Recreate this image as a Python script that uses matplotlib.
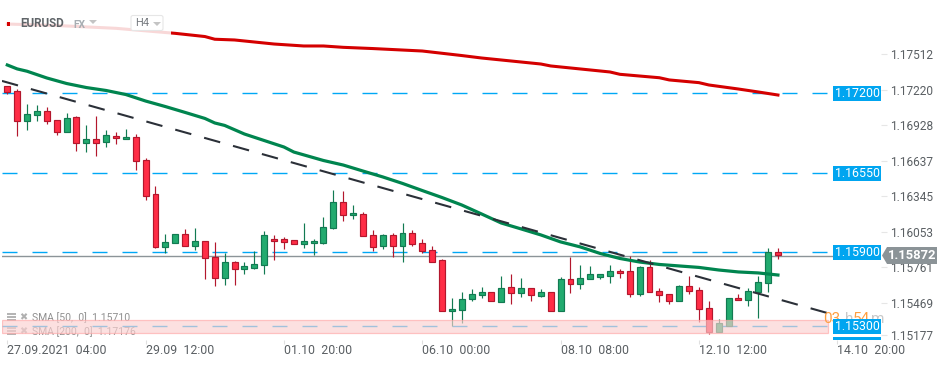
import matplotlib
matplotlib.use('Agg')
import matplotlib.pyplot as plt
from matplotlib.patches import Rectangle, Polygon, FancyBboxPatch

plt.rcParams['font.family'] = ['Roboto', 'DejaVu Sans']

opens = [1.17253, 1.17214, 1.16969, 1.17018, 1.17051, 1.16977, 1.16880, 1.17002, 1.16790, 1.16822,
         1.16798, 1.16847, 1.16822, 1.16839, 1.16651, 1.16374, 1.15947, 1.15974, 1.16048, 1.15950,
         1.15991, 1.15860, 1.15689, 1.15819, 1.15762, 1.15770, 1.15795, 1.16007, 1.16007, 1.15999,
         1.15966, 1.15974, 1.15979, 1.16097, 1.16309, 1.16203, 1.16211, 1.16039, 1.15950, 1.16039,
         1.15950, 1.16056, 1.15974, 1.15917, 1.15835, 1.15420, 1.15428, 1.15518, 1.15550, 1.15575,
         1.15493, 1.15615, 1.15566, 1.15607, 1.15542, 1.15575, 1.15420, 1.15681, 1.15640, 1.15681,
         1.15697, 1.15705, 1.15746, 1.15746, 1.15558, 1.15778, 1.15583, 1.15558, 1.15501, 1.15623,
         1.15591, 1.15444, 1.15253, 1.15302, 1.15526, 1.15509, 1.15575, 1.15648, 1.15901]
closes = [1.17204, 1.16969, 1.17026, 1.17051, 1.16969, 1.16880, 1.16994, 1.16790, 1.16822, 1.16790,
          1.16855, 1.16831, 1.16839, 1.16643, 1.16362, 1.15947, 1.15982, 1.16048, 1.15950, 1.15991,
          1.15852, 1.15689, 1.15819, 1.15762, 1.15787, 1.15803, 1.16039, 1.15991, 1.15982, 1.15966,
          1.15991, 1.15991, 1.16105, 1.16309, 1.16203, 1.16219, 1.16031, 1.15942, 1.16039, 1.15950,
          1.16056, 1.15966, 1.15909, 1.15819, 1.15420, 1.15436, 1.15518, 1.15558, 1.15575, 1.15501,
          1.15607, 1.15566, 1.15607, 1.15550, 1.15575, 1.15420, 1.15681, 1.15640, 1.15689, 1.15721,
          1.15721, 1.15746, 1.15729, 1.15558, 1.15778, 1.15575, 1.15550, 1.15501, 1.15623, 1.15583,
          1.15436, 1.15253, 1.15321, 1.15526, 1.15509, 1.15583, 1.15656, 1.15901, 1.15879]
highs = [1.17257, 1.17230, 1.17110, 1.17100, 1.17083, 1.16977, 1.17034, 1.17010, 1.16936, 1.17010,
         1.16896, 1.16880, 1.16904, 1.16863, 1.16668, 1.16442, 1.16050, 1.16050, 1.16088, 1.16097,
         1.15991, 1.15985, 1.15893, 1.15828, 1.15819, 1.15909, 1.16072, 1.16039, 1.16023, 1.15999,
         1.16140, 1.16007, 1.16189, 1.16409, 1.16398, 1.16287, 1.16227, 1.16080, 1.16048, 1.16056,
         1.16140, 1.16080, 1.16007, 1.15950, 1.15844, 1.15526, 1.15575, 1.15599, 1.15615, 1.15575,
         1.15705, 1.15721, 1.15689, 1.15607, 1.15599, 1.15575, 1.15697, 1.15860, 1.15795, 1.15787,
         1.15721, 1.15795, 1.15762, 1.15871, 1.15789, 1.15835, 1.15607, 1.15558, 1.15632, 1.15705,
         1.15615, 1.15501, 1.15354, 1.15526, 1.15558, 1.15607, 1.15705, 1.15933, 1.15933]
lows = [1.17192, 1.16852, 1.16901, 1.16974, 1.16950, 1.16860, 1.16880, 1.16729, 1.16721, 1.16689,
        1.16762, 1.16787, 1.16822, 1.16575, 1.16330, 1.15938, 1.15898, 1.15974, 1.15950, 1.15922,
        1.15686, 1.15628, 1.15637, 1.15637, 1.15726, 1.15762, 1.15726, 1.15841, 1.15928, 1.15966,
        1.15938, 1.15879, 1.15971, 1.16088, 1.16158, 1.16175, 1.16031, 1.15909, 1.15930, 1.15862,
        1.15819, 1.15950, 1.15893, 1.15819, 1.15420, 1.15302, 1.15327, 1.15501, 1.15526, 1.15501,
        1.15493, 1.15481, 1.15534, 1.15501, 1.15534, 1.15420, 1.15420, 1.15566, 1.15604, 1.15681,
        1.15686, 1.15648, 1.15693, 1.15534, 1.15547, 1.15575, 1.15498, 1.15481, 1.15501, 1.15563,
        1.15335, 1.15237, 1.15253, 1.15302, 1.15509, 1.15465, 1.15367, 1.15579, 1.15846]

sma50_idx = [0, 1, 2, 4, 6, 8, 10, 12, 14, 16, 18, 20, 21, 22, 24, 26, 28, 29, 32, 34, 36, 38, 40, 42,
             44, 46, 48, 50, 52, 54, 56, 58, 60, 62, 64, 66, 68, 70, 72, 74, 76, 78]
sma50 = [1.17428, 1.17396, 1.17377, 1.17322, 1.17277, 1.17244, 1.17220, 1.17187, 1.17134, 1.17089,
         1.17041, 1.16992, 1.16955, 1.16935, 1.16865, 1.16812, 1.16759, 1.16718, 1.16649, 1.16612,
         1.16563, 1.16515, 1.16462, 1.16404, 1.16347, 1.16286, 1.16213, 1.16139, 1.16091, 1.16042,
         1.15985, 1.15944, 1.15891, 1.15850, 1.15821, 1.15801, 1.15789, 1.15777, 1.15756, 1.15740,
         1.15732, 1.15715]

sma200_idx = [0, 5, 11, 17, 20, 21, 23, 27, 30, 32, 34, 37, 42, 46, 48, 54, 55, 61, 62, 66, 67, 70,
              71, 74, 76, 78]
sma200 = [1.17762, 1.17750, 1.17727, 1.17686, 1.17660, 1.17638, 1.17632, 1.17599, 1.17583, 1.17583,
          1.17572, 1.17562, 1.17542, 1.17505, 1.17485, 1.17436, 1.17420, 1.17371, 1.17352, 1.17324,
          1.17306, 1.17284, 1.17265, 1.17232, 1.17208, 1.17183]

levels = [1.17200, 1.16550, 1.15900, 1.15300]
last_price = 1.15872
zone_top = 1.15345
zone_bottom = 1.15245
trend_idx = [-0.54, 82.96]
trend_price = [1.17298, 1.15406]

x_tick_idx = [0, 14, 28, 42, 56, 70, 84]
x_tick_labels = ['27.09.2021  04:00', '29.09  12:00', '01.10  20:00', '06.10  00:00',
                 '08.10  08:00', '12.10  12:00', '14.10  20:00']
# the platform squeezes its price labels, so positions are as seen on the picture
y_tick_pos = [1.17518, 1.17224, 1.16939, 1.16645, 1.16360, 1.16066, 1.15781, 1.15487, 1.15226]
y_tick_labels = ['1.17512', '1.17220', '1.16928', '1.16637', '1.16345', '1.16053', '1.15761',
                 '1.15469', '1.15177']

W, H = 950, 365
fig = plt.figure(figsize=(W / 100, H / 100), dpi=100)
ax = fig.add_axes([2 / W, 1 - 340 / H, 879 / W, 340 / H])
ov = fig.add_axes([0, 0, 1, 1], facecolor='none')
ov.set_xlim(0, W)
ov.set_ylim(H, 0)
ov.axis('off')

ax.set_xlim(-0.536, 88.43)
ax.set_ylim(1.15185, 1.17958)
for s in ax.spines.values():
    s.set_visible(False)

GREY_TXT = '#5a5f63'
BLUE = '#00a5f0'

# horizontal levels and last price
for lv in levels:
    ax.plot([-0.536, 83.57], [lv, lv], color='#00a8f5', lw=1.0, ls=(0, (10.8, 10.8)), zorder=1)
ax.plot([-0.536, 83.57], [last_price, last_price], color='#8c9498', lw=1.0, zorder=1.5)

# candles
for i in range(len(opens)):
    up = closes[i] >= opens[i]
    edge = '#127a52' if up else '#b3172d'
    fill = '#22ab6f' if up else '#ff2d46'
    ax.vlines(i, lows[i], highs[i], color=edge, lw=0.85, zorder=2)
    ax.bar(i, abs(closes[i] - opens[i]), bottom=min(opens[i], closes[i]), width=0.6,
           color=fill, edgecolor=edge, linewidth=0.85, zorder=3)

# moving averages and trend line
ax.plot(sma200_idx, sma200, color='#d40000', lw=2.2, zorder=4)
ax.plot(sma50_idx, sma50, color='#00854f', lw=2.3, zorder=4)
ax.plot(trend_idx, trend_price, color='#2b3038', lw=1.5, ls=(0, (8, 6.4)), zorder=4.5)

# indicator legend, sits under the pink zone
for ty, txt in [(318, 'SMA [50,  0]  1.15710'), (332, 'SMA [200,  0]  1.17176')]:
    ax.text(32, ty, txt, transform=ov.transData, color='#8f8f8f', fontsize=7.5, va='center',
            clip_on=False, zorder=5)
    for dy in (-4, -1, 2):
        ax.add_patch(Rectangle((7, ty + dy - 1), 9, 2, transform=ov.transData, color='#b5b5b5',
                               lw=0, clip_on=False, zorder=5))
    ax.text(23, ty - 1, '✖', transform=ov.transData, color='#b0b0b0', fontsize=7, ha='center',
            va='center', family='DejaVu Sans', clip_on=False, zorder=5)

ax.add_patch(Rectangle((-0.536, zone_bottom), 83.6, zone_top - zone_bottom, facecolor='#fbd0d0',
                       edgecolor='#ffa8a8', linewidth=0.9, alpha=0.65, zorder=6))

ax.yaxis.tick_right()
ax.set_yticks(y_tick_pos)
ax.set_yticklabels(y_tick_labels)
ax.set_xticks(x_tick_idx)
ax.set_xticklabels(x_tick_labels, ha='left')
ax.tick_params(axis='y', length=4.3, width=0.8, color='#e6e6e6', labelcolor=GREY_TXT, labelsize=8.6, pad=2)
ax.tick_params(axis='x', length=3, width=0.8, color='#e0e0e0', labelcolor=GREY_TXT, labelsize=8.9, pad=0)

# header, translucent panel on top of the red line
ov.add_patch(Rectangle((0, 14), 171, 26, facecolor='white', alpha=0.85, lw=0, zorder=1))
ov.add_patch(Rectangle((7, 21.5), 3, 4, facecolor='#d40000', lw=0, zorder=2))
ov.text(20, 23.5, 'EURUSD', color='#5f6468', fontsize=8.4, fontweight='bold', va='center', zorder=2)
ov.text(73, 24.5, 'FX', color='#a8adb2', fontsize=7.4, fontweight='bold', va='center', zorder=2)
ov.add_patch(Polygon([(89, 20), (97, 20), (93, 24)], facecolor='#c4c4c4', lw=0, zorder=2))
ov.add_patch(FancyBboxPatch((131, 15.5), 32, 15, boxstyle='round,pad=0,rounding_size=2',
                            facecolor='white', edgecolor='#e6e6e6', lw=0.8, zorder=2))
ov.text(135, 23.5, 'H4', color='#777b80', fontsize=8, va='center', zorder=3)
ov.add_patch(Polygon([(153, 22), (161, 22), (157, 26)], facecolor='#c4c4c4', lw=0, zorder=3))

# countdown behind the 1.15300 tag
for cx, txt, col in [(823, '03', '#ff9f3f'), (845, 'h', '#c9c9c9'), (853, '54', '#ff9f3f'), (871, 'm', '#c9c9c9')]:
    ov.text(cx, 319, txt, color=col, fontsize=11, va='center', zorder=3)

# level tags
for lv, ty in zip(levels, (93.5, 173.5, 252, 326.5)):
    ov.add_patch(Rectangle((833, ty - 7.5), 48, 15, facecolor=BLUE, lw=0, zorder=4))
    ov.text(857, ty, f'{lv:.5f}', color='white', fontsize=8.9, ha='center', va='center', zorder=5)
ov.add_patch(Rectangle((833, 337), 48, 3, facecolor=BLUE, lw=0, zorder=4))

# last price tag
ov.add_patch(Polygon([(882, 255.5), (887, 247), (937, 247), (937, 264), (887, 264)],
                     facecolor='#8b9397', lw=0, zorder=4))
ov.text(912, 255.5, f'{last_price:.5f}', color='white', fontsize=9.4, fontweight='bold',
        ha='center', va='center', zorder=5)

fig.savefig('out.png', dpi=100)
